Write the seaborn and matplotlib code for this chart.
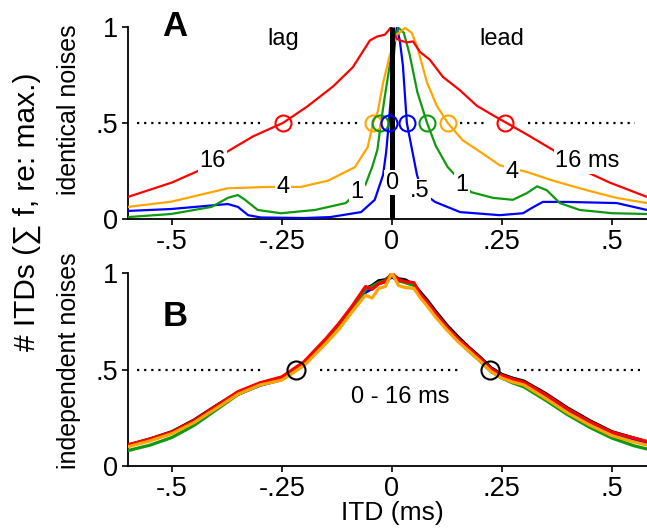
import matplotlib
matplotlib.use("Agg")
import matplotlib.pyplot as plt
import seaborn as sns
import numpy as np
import pandas as pd

sns.set_style("ticks")
plt.rcParams['font.family'] = ['Liberation Sans', 'DejaVu Sans']
plt.rcParams['text.color'] = 'black'
plt.rcParams['axes.labelcolor'] = 'black'
plt.rcParams['xtick.color'] = 'black'
plt.rcParams['ytick.color'] = 'black'
plt.rcParams['axes.edgecolor'] = 'black'

# ---------------- Panel A data (identical noises) ----------------
a_x_16 = [-0.6, -0.5, -0.436, -0.375, -0.316, -0.248, -0.193, -0.134, -0.089, -0.05, -0.034, -0.016,
          -0.005, -0.002, 0.011, 0.018, 0.034, 0.048, 0.064, 0.086, 0.116, 0.155, 0.193, 0.23, 0.261,
          0.307, 0.366, 0.443, 0.495, 0.58]
a_y_16 = [0.115, 0.19, 0.255, 0.35, 0.43, 0.5, 0.585, 0.69, 0.79, 0.93, 0.95, 0.96,
          0.99, 1.0, 0.94, 0.93, 0.92, 0.925, 0.87, 0.83, 0.74, 0.67, 0.59, 0.54, 0.5,
          0.44, 0.36, 0.245, 0.19, 0.115]

a_x_4 = [-0.6, -0.502, -0.373, -0.282, -0.207, -0.145, -0.084, -0.055, -0.043, -0.032, -0.02, -0.005,
         0.011, 0.03, 0.045, 0.057, 0.08, 0.102, 0.127, 0.161, 0.207, 0.245, 0.307, 0.366, 0.443,
         0.511, 0.58]
a_y_4 = [0.063, 0.09, 0.16, 0.167, 0.167, 0.2, 0.27, 0.375, 0.5, 0.56, 0.71, 0.85,
         0.96, 0.995, 0.97, 0.9, 0.71, 0.59, 0.5, 0.41, 0.34, 0.28, 0.245, 0.2, 0.15,
         0.11, 0.083]

a_x_1 = [-0.6, -0.502, -0.41, -0.373, -0.35, -0.334, -0.305, -0.252, -0.175, -0.105, -0.06, -0.045,
         -0.033, -0.025, -0.016, -0.005, 0.005, 0.015, 0.027, 0.04, 0.058, 0.08, 0.1, 0.127, 0.18,
         0.23, 0.275, 0.307, 0.33, 0.352, 0.382, 0.427, 0.502, 0.58]
a_y_1 = [0.01, 0.026, 0.063, 0.11, 0.125, 0.1, 0.047, 0.03, 0.047, 0.083, 0.18, 0.27,
         0.36, 0.5, 0.64, 0.8, 0.93, 0.995, 0.97, 0.86, 0.66, 0.5, 0.38, 0.27, 0.14,
         0.11, 0.1, 0.135, 0.17, 0.15, 0.083, 0.047, 0.03, 0.026]

a_x_05 = [-0.6, -0.502, -0.373, -0.35, -0.327, -0.298, -0.2, -0.14, -0.07, -0.039, -0.02, -0.013,
          -0.007, 0.0, 0.006, 0.011, 0.018, 0.025, 0.034, 0.045, 0.057, 0.065, 0.08, 0.098, 0.155,
          0.245, 0.298, 0.32, 0.343, 0.398, 0.511, 0.58]
a_y_05 = [0.042, 0.052, 0.078, 0.063, 0.02, 0.008, 0.005, 0.01, 0.036, 0.1, 0.23, 0.35,
          0.5, 0.7, 0.9, 0.995, 0.93, 0.8, 0.5, 0.37, 0.23, 0.17, 0.12, 0.089, 0.036,
          0.02, 0.03, 0.06, 0.089, 0.089, 0.083, 0.047]

a_half_x_16 = [-0.248, 0.257]
a_half_x_4 = [-0.043, 0.127]
a_half_x_1 = [-0.027, 0.08]
a_half_x_05 = [-0.007, 0.034]

# ---------------- Panel B data (independent noises) ----------------
b_x = [-0.6, -0.55, -0.5, -0.45, -0.4, -0.35, -0.3, -0.25, -0.2, -0.15, -0.12, -0.09, -0.06, -0.045,
       -0.03, -0.015, 0.0, 0.015, 0.03, 0.05, 0.065, 0.08, 0.1, 0.125, 0.15, 0.175, 0.2, 0.225,
       0.25, 0.275, 0.3, 0.35, 0.4, 0.45, 0.5, 0.55, 0.58]
b_y_0 = [0.108, 0.14, 0.178, 0.238, 0.312, 0.382, 0.428, 0.458, 0.535, 0.655, 0.735, 0.825, 0.92, 0.935,
         0.96, 0.965, 0.99, 0.97, 0.965, 0.94, 0.9, 0.86, 0.8, 0.73, 0.67, 0.615, 0.565, 0.51,
         0.475, 0.455, 0.44, 0.375, 0.3, 0.235, 0.178, 0.145, 0.125]
b_y_05 = [0.105, 0.135, 0.172, 0.23, 0.3, 0.372, 0.418, 0.448, 0.525, 0.64, 0.72, 0.81, 0.9, 0.92,
          0.945, 0.955, 0.98, 0.96, 0.955, 0.94, 0.885, 0.85, 0.79, 0.72, 0.66, 0.605, 0.555, 0.5,
          0.465, 0.445, 0.43, 0.36, 0.285, 0.22, 0.165, 0.132, 0.115]
b_y_1 = [0.08, 0.108, 0.148, 0.21, 0.29, 0.37, 0.42, 0.45, 0.53, 0.65, 0.73, 0.82, 0.915, 0.93,
         0.95, 0.96, 0.99, 0.96, 0.95, 0.935, 0.88, 0.84, 0.78, 0.71, 0.65, 0.595, 0.545, 0.49,
         0.455, 0.43, 0.41, 0.34, 0.265, 0.2, 0.145, 0.105, 0.088]
b_y_16 = [0.11, 0.14, 0.176, 0.235, 0.31, 0.385, 0.431, 0.462, 0.54, 0.66, 0.74, 0.83, 0.93, 0.915,
          0.945, 0.955, 1.0, 0.965, 0.955, 0.95, 0.89, 0.85, 0.79, 0.72, 0.66, 0.61, 0.56, 0.505,
          0.47, 0.45, 0.435, 0.37, 0.295, 0.23, 0.175, 0.145, 0.127]
b_y_4 = [0.1, 0.13, 0.168, 0.225, 0.298, 0.372, 0.42, 0.445, 0.52, 0.635, 0.71, 0.8, 0.885, 0.87,
         0.92, 0.93, 1.0, 0.935, 0.925, 0.92, 0.87, 0.83, 0.77, 0.705, 0.645, 0.595, 0.545, 0.49,
         0.455, 0.435, 0.42, 0.35, 0.275, 0.212, 0.158, 0.125, 0.108]
b_half_x = [-0.217, 0.224]

x_ticks = [-0.5, -0.25, 0, 0.25, 0.5]
x_ticklabels = ['-.5', '-.25', '0', '.25', '.5']
y_ticks = [0, 0.5, 1]
y_ticklabels = ['0', '.5', '1']

RED = '#ff0000'
ORANGE = '#ffa500'
GREEN = '#0f990f'
BLUE = '#0000ff'
BLACK = '#000000'

W, H = 647, 529
fig = plt.figure(figsize=(W / 100, H / 100), dpi=100)

def ax_rect(l, t, r, b):
    return [l / W, 1 - b / H, (r - l) / W, (b - t) / H]

axA = fig.add_axes(ax_rect(128, 27, 647, 219))
axB = fig.add_axes(ax_rect(128, 273, 647, 466))

TICK_FS = 19.5
LABEL_FS = 17

for ax in (axA, axB):
    ax.set_xlim(-0.6, 0.58)
    ax.set_ylim(0, 1)
    sns.despine(ax=ax)
    ax.spines['left'].set_linewidth(1.3)
    ax.spines['bottom'].set_linewidth(1.3)
    ax.set_xticks(x_ticks)
    ax.set_xticklabels(x_ticklabels)
    ax.set_yticks(y_ticks)
    ax.set_yticklabels(y_ticklabels)
    ax.tick_params(length=4.5, width=1.2, labelsize=TICK_FS, pad=2.5, color='black', labelcolor='black')
    ax.set_xlabel('')
    ax.set_ylabel('')
    ax.patch.set_alpha(0)

# ---------- Panel A ----------
def dotted(ax, x0, x1, y=0.5):
    ax.plot([x0, x1], [y, y], color='black', lw=1.6, linestyle=(0, (1, 2.2)), zorder=1)

for seg in [(-0.58, -0.30), (-0.214, -0.07), (0.155, 0.216), (0.309, 0.552)]:
    dotted(axA, *seg)

curvesA = [(a_x_05, a_y_05, BLUE), (a_x_1, a_y_1, GREEN), (a_x_4, a_y_4, ORANGE), (a_x_16, a_y_16, RED)]
for xs, ys, c in curvesA:
    sns.lineplot(x=xs, y=ys, color=c, lw=1.6, ax=axA, sort=False, estimator=None, zorder=3)

axA.plot([0, 0], [0, 1], color='black', lw=3.6, zorder=4, solid_capstyle='butt')

for xs, c in [(a_half_x_16, RED), (a_half_x_4, ORANGE), (a_half_x_1, GREEN), (a_half_x_05, BLUE)]:
    axA.plot(xs, [0.5] * len(xs), 'o', ms=11.5, mfc='none', mec=c, mew=1.5, zorder=5)

box = dict(facecolor='white', edgecolor='none', pad=1.0)
lab_kw = dict(fontsize=LABEL_FS, ha='center', va='center', zorder=6)
axA.text(-0.407, 0.30, '16', bbox=box, **lab_kw)
axA.text(-0.248, 0.165, '4', bbox=box, **lab_kw)
axA.text(-0.08, 0.14, '1', bbox=box, **lab_kw)
axA.text(0.0, 0.19, '0', bbox=box, **lab_kw)
axA.text(0.064, 0.145, '.5', bbox=box, **lab_kw)
axA.text(0.159, 0.175, '1', bbox=box, **lab_kw)
axA.text(0.273, 0.245, '4', bbox=box, **lab_kw)
axA.text(0.445, 0.30, '16 ms', bbox=box, **lab_kw)
axA.text(-0.248, 0.935, 'lag', **lab_kw)
axA.text(0.25, 0.935, 'lead', **lab_kw)
axA.text(-0.493, 1.0, 'A', fontsize=25, fontweight='bold', ha='center', va='center', zorder=6)

# ---------- Panel B ----------
for seg in [(-0.58, -0.296), (-0.164, 0.15), (0.284, 0.564)]:
    dotted(axB, *seg)

for ys, c in [(b_y_0, BLACK), (b_y_05, BLUE), (b_y_1, GREEN), (b_y_16, RED), (b_y_4, ORANGE)]:
    sns.lineplot(x=b_x, y=ys, color=c, lw=2.3, ax=axB, sort=False, estimator=None, zorder=3)

axB.plot(b_half_x, [0.5, 0.5], 'o', ms=13, mfc='none', mec='black', mew=1.5, zorder=5)
axB.text(0.018, 0.36, '0 - 16 ms', **lab_kw)
axB.text(-0.493, 0.775, 'B', fontsize=25, fontweight='bold', ha='center', va='center', zorder=6)

# ---------- figure labels ----------
fig.text(392 / W, 1 - 513 / H, 'ITD (ms)', fontsize=19, ha='center', va='center')
fig.text(27 / W, 1 - 212 / H, '# ITDs (\u2211 f, re: max.)', fontsize=21.5, rotation=90,
         ha='center', va='center')
fig.text(69 / W, 1 - 110 / H, 'identical noises', fontsize=18, rotation=90, ha='center', va='center')
fig.text(69 / W, 1 - 361 / H, 'independent noises', fontsize=18, rotation=90, ha='center', va='center')

fig.savefig('out.png', dpi=100)
